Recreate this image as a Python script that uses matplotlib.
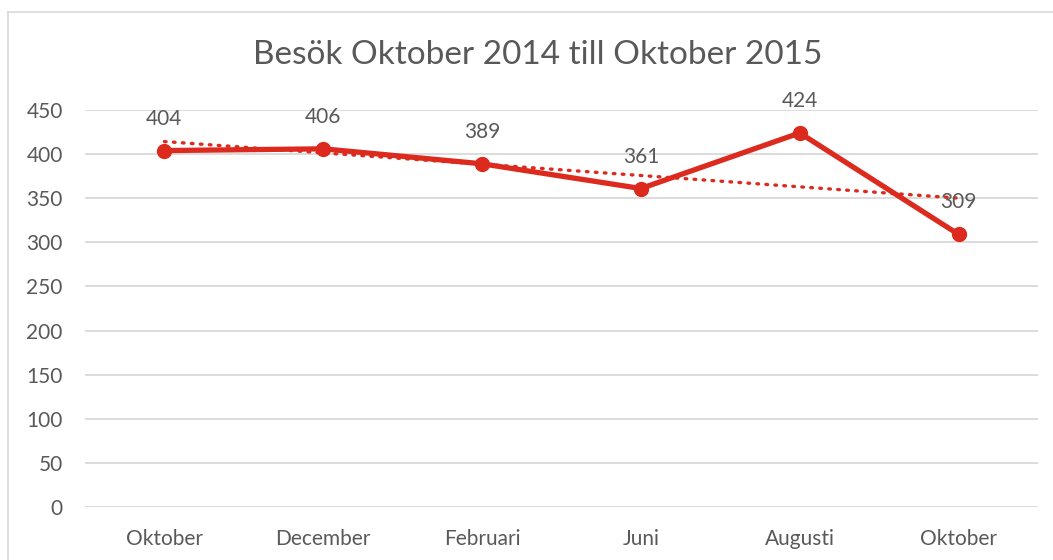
import numpy as np
import matplotlib.pyplot as plt
from matplotlib.lines import Line2D

months = ['Oktober', 'December', 'Februari', 'Juni', 'Augusti', 'Oktober']
visits = [404, 406, 389, 361, 424, 309]
yticks = [0, 50, 100, 150, 200, 250, 300, 350, 400, 450]
title = 'Besök Oktober 2014 till Oktober 2015'

red = '#DC2A1E'
grey_text = '#595959'

plt.rcParams['font.family'] = ['Lato', 'DejaVu Sans']

fig = plt.figure(figsize=(10.53, 5.6), dpi=100)
ax = fig.add_axes([85 / 1053, 53 / 560, (1038 - 85) / 1053, 397 / 560])

x = np.arange(len(visits))

# linear trendline, like excel
k, m = np.polyfit(x, visits, 1)
ax.plot(x, k * x + m, color=red, lw=2.4, linestyle=(0, (0.5, 2.2)),
        dash_capstyle='round', zorder=3)

ax.plot(x, visits, color=red, lw=3.8, marker='o', markersize=10, zorder=4)

for xi, v in zip(x, visits):
    ax.annotate(str(v), (xi, v), xytext=(0, 23), textcoords='offset points',
                ha='center', va='center', fontsize=15, color=grey_text)

ax.set_xlim(-0.5, len(visits) - 0.5)
ax.set_ylim(0, 450)
ax.set_yticks(yticks)
ax.set_xticks(x)
ax.set_xticklabels(months)
ax.grid(axis='y', color='#D9D9D9', lw=1.3)
ax.set_axisbelow(True)
for s in ax.spines.values():
    s.set_visible(False)
ax.tick_params(length=0, labelsize=15, labelcolor=grey_text)
ax.tick_params(axis='y', pad=16)
ax.tick_params(axis='x', pad=16)

fig.text(537.5 / 1053, 1 - 55 / 560, title, ha='center', va='center',
         fontsize=24, color=grey_text)

# chart area border (only left and top visible)
fig.add_artist(Line2D([8 / 1053, 8 / 1053], [0, 1 - 12 / 560],
                      transform=fig.transFigure, color='#D9D9D9', lw=1.2))
fig.add_artist(Line2D([8 / 1053, 1], [1 - 12 / 560, 1 - 12 / 560],
                      transform=fig.transFigure, color='#D9D9D9', lw=1.2))

fig.savefig('out.png', dpi=100)
